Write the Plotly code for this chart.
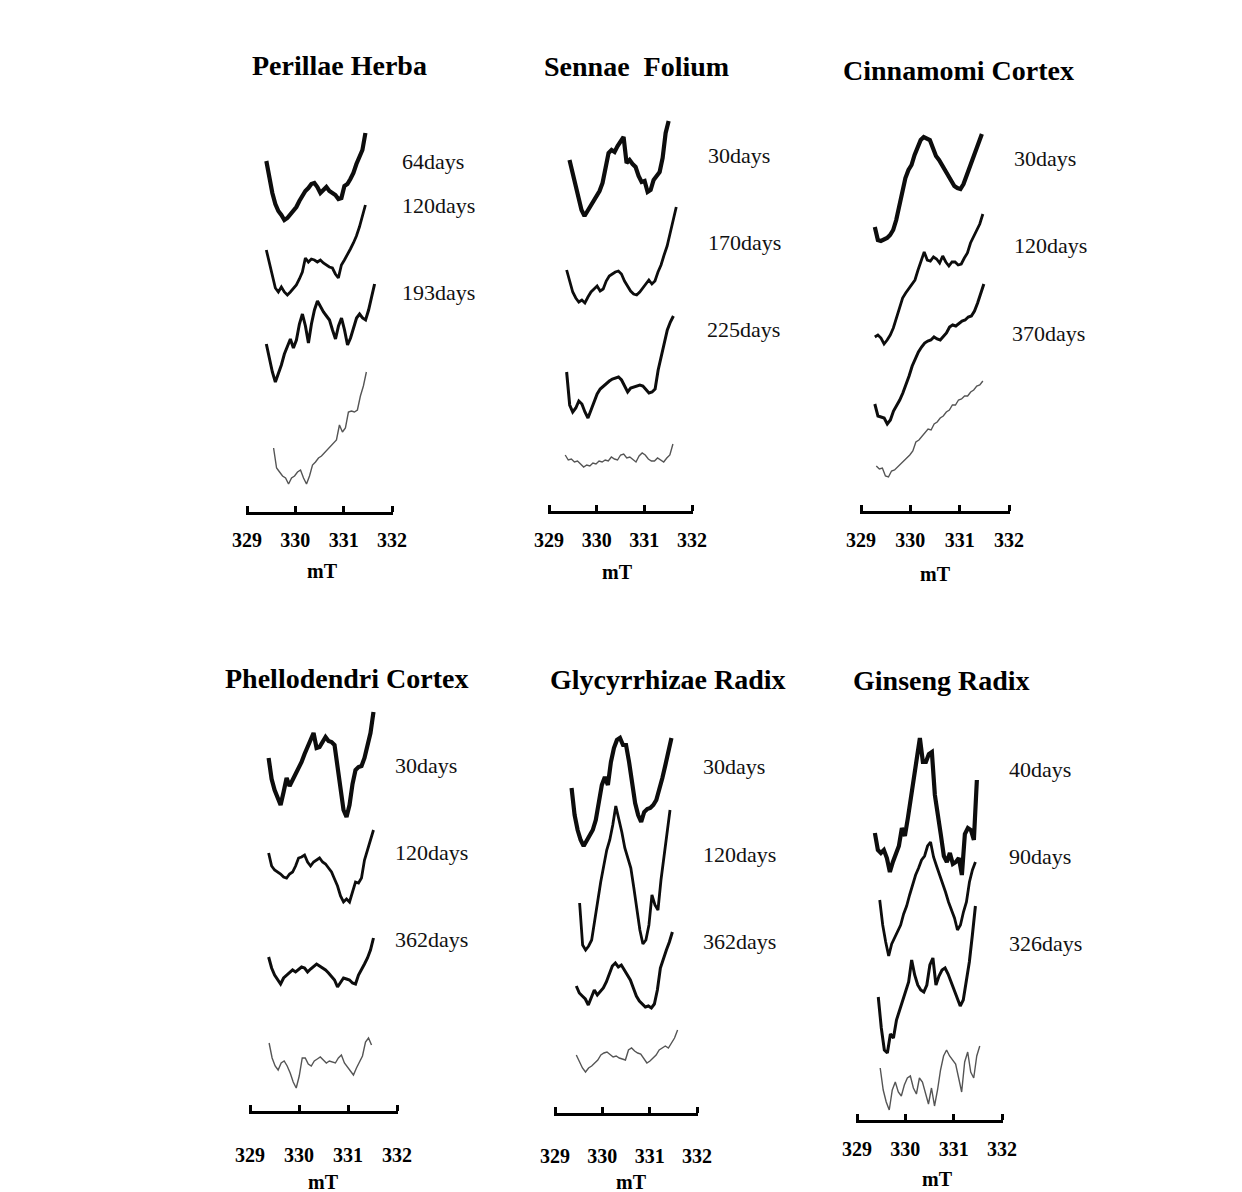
import numpy as np
import plotly.graph_objects as go

W, H = 1242, 1192
SERIF = "Liberation Serif"

# ---- ESR spectra: sweep limits (mT) and signal amplitude (a.u.) ----
perillae_64d_field = [329.40, 331.45]
perillae_64d = [59, 42, 27, 16, 9, 5, 0, 2, 6, 9, 13, 19, 25, 29, 32, 36, 37, 33, 27, 30,
                33, 29, 27, 25, 21, 22, 34, 36, 41, 47, 56, 63, 70, 87]
perillae_120d_field = [329.40, 331.45]
perillae_120d = [45, 33, 18, 7, 3, 8, 3, 0, 3, 6, 10, 16, 23, 37, 33, 36, 35, 33, 35, 32,
                 30, 28, 27, 21, 17, 30, 35, 40, 46, 52, 59, 68, 78, 90]
perillae_193d_field = [329.40, 331.64]
perillae_193d = [41, 27, 13, 3, 11, 20, 31, 39, 46, 37, 45, 61, 71, 59, 42, 61, 75, 84, 78, 73,
                 69, 65, 55, 46, 59, 67, 55, 40, 47, 56, 67, 71, 67, 65, 75, 88, 101]
perillae_ctrl_field = [329.55, 331.47]
perillae_ctrl = [37, 17, 13, 9, 7, 1, 7, 9, 13, 15, 7, 1, 9, 20, 23, 27, 29, 32, 35, 38,
                 41, 45, 60, 53, 57, 73, 74, 73, 75, 89, 99, 113]

sennae_30d_field = [329.43, 331.51]
sennae_30d = [56, 44, 34, 18, 6, 0, 5, 10, 14, 20, 25, 33, 50, 63, 66, 64, 70, 75, 79, 53,
              56, 52, 49, 40, 34, 35, 24, 26, 36, 40, 44, 58, 83, 95]
sennae_170d_field = [329.37, 331.67]
sennae_170d = [35, 23, 13, 7, 3, 5, 2, 8, 13, 16, 19, 14, 16, 24, 29, 31, 33, 34, 31, 24,
               19, 14, 11, 10, 13, 17, 21, 25, 21, 24, 33, 40, 50, 59, 72, 86, 98]
sennae_225d_field = [329.37, 331.61]
sennae_225d = [48, 15, 8, 12, 19, 16, 8, 2, 10, 18, 26, 31, 34, 37, 39, 41, 42, 43, 40, 34,
               28, 32, 33, 34, 35, 34, 30, 27, 28, 31, 50, 64, 76, 90, 98, 104]
sennae_ctrl_field = [329.34, 331.60]
sennae_ctrl = [15, 10, 11, 8, 9, 6, 3, 5, 4, 7, 6, 9, 8, 10, 9, 13, 11, 10, 15, 16,
               12, 13, 10, 8, 14, 17, 15, 11, 9, 9, 12, 10, 8, 12, 15, 26]

cinnamomi_30d_field = [329.28, 331.45]
cinnamomi_30d = [18, 5, 4, 5, 7, 10, 15, 25, 40, 57, 67, 75, 80, 90, 98, 105, 108, 106, 105, 97,
                 89, 85, 80, 75, 69, 63, 59, 57, 56, 61, 69, 78, 87, 95, 103, 111]
cinnamomi_120d_field = [329.28, 331.47]
cinnamomi_120d = [8, 10, 7, 1, 5, 10, 17, 27, 37, 47, 52, 56, 61, 65, 75, 85, 93, 85, 84, 88,
                  86, 82, 89, 83, 79, 83, 83, 80, 81, 87, 92, 102, 108, 114, 121, 131]
cinnamomi_370d_field = [329.28, 331.49]
cinnamomi_370d = [21, 9, 8, 7, 1, 5, 14, 19, 25, 32, 40, 49, 59, 67, 73, 78, 82, 84, 85, 88,
                  86, 85, 89, 92, 98, 100, 99, 102, 104, 105, 108, 109, 114, 122, 131, 141]
cinnamomi_ctrl_field = [329.31, 331.47]
cinnamomi_ctrl = [14, 11, 12, 4, 3, 9, 10, 13, 15, 18, 22, 25, 29, 38, 40, 44, 47, 51, 50, 56,
                  58, 62, 64, 68, 70, 75, 75, 80, 81, 84, 84, 88, 90, 94, 95, 99]

phellodendri_30d_field = [329.38, 331.52]
phellodendri_30d = [62, 41, 30, 21, 15, 28, 42, 34, 40, 45, 52, 58, 66, 72, 80, 87, 72, 73, 78, 83,
                    79, 78, 75, 55, 33, 10, 3, 15, 36, 50, 53, 54, 62, 73, 87, 108]
phellodendri_120d_field = [329.38, 331.52]
phellodendri_120d = [52, 39, 35, 33, 31, 28, 27, 31, 33, 39, 47, 48, 50, 43, 39, 43, 45, 47, 43, 41,
                     37, 33, 26, 19, 9, 3, 6, 3, 13, 23, 22, 27, 45, 56, 65, 75]
phellodendri_362d_field = [329.38, 331.52]
phellodendri_362d = [33, 22, 15, 10, 6, 12, 15, 18, 20, 18, 21, 23, 22, 18, 21, 24, 26, 24, 22, 20,
                     17, 14, 10, 3, 8, 12, 11, 10, 7, 6, 15, 20, 26, 32, 40, 52]
phellodendri_ctrl_field = [329.39, 331.48]
phellodendri_ctrl = [47, 32, 24, 20, 27, 29, 24, 17, 8, 2, 14, 32, 32, 26, 24, 29, 31, 33, 30, 27,
                     29, 28, 27, 32, 35, 27, 23, 18, 15, 22, 28, 34, 48, 52, 45]

glycyrrhizae_30d_field = [329.35, 331.46]
glycyrrhizae_30d = [62, 35, 20, 10, 4, 10, 16, 20, 30, 45, 65, 73, 65, 88, 102, 110, 112, 105, 105, 88,
                    68, 47, 35, 28, 38, 41, 42, 45, 50, 60, 72, 85, 98, 112]
glycyrrhizae_120d_field = [329.52, 331.43]
glycyrrhizae_120d = [52, 10, 5, 9, 15, 35, 55, 73, 89, 105, 115, 130, 149, 137, 123, 107, 98, 87, 67, 47,
                     25, 11, 15, 30, 60, 50, 45, 75, 97, 120, 145]
glycyrrhizae_362d_field = [329.45, 331.48]
glycyrrhizae_362d = [24, 17, 14, 11, 5, 12, 20, 15, 18, 22, 28, 37, 44, 47, 43, 45, 40, 35, 30, 22,
                     14, 9, 6, 3, 4, 2, 6, 20, 42, 52, 60, 68, 78]
glycyrrhizae_ctrl_field = [329.45, 331.59]
glycyrrhizae_ctrl = [20, 13, 7, 3, 7, 9, 12, 15, 20, 22, 23, 20, 18, 19, 17, 16, 15, 25, 27, 24,
                     22, 21, 17, 12, 14, 17, 20, 25, 27, 29, 27, 32, 37, 45]

ginseng_40d_field = [329.37, 331.48]
ginseng_40d = [47, 30, 27, 30, 22, 8, 18, 25, 34, 52, 44, 62, 82, 98, 125, 142, 118, 118, 126, 128,
               85, 68, 45, 24, 18, 27, 16, 18, 22, 5, 46, 52, 50, 40, 100]
ginseng_90d_field = [329.47, 331.45]
ginseng_90d = [60, 35, 18, 4, 16, 22, 28, 35, 46, 54, 65, 76, 85, 92, 100, 104, 114, 118, 103, 94,
               86, 78, 68, 58, 50, 42, 30, 35, 48, 58, 78, 90, 98]
ginseng_326d_field = [329.44, 331.45]
ginseng_326d = [58, 27, 5, 2, 21, 17, 35, 45, 53, 63, 73, 95, 80, 70, 65, 63, 70, 90, 97, 70,
                79, 85, 87, 81, 73, 65, 55, 49, 55, 73, 93, 120, 149]
ginseng_ctrl_field = [329.48, 331.54]
ginseng_ctrl = [44, 22, 10, 2, 22, 30, 20, 16, 27, 34, 36, 24, 18, 34, 30, 20, 8, 24, 6, 22,
                42, 56, 62, 56, 52, 48, 34, 20, 50, 60, 40, 34, 56, 66]

field_ticks = [329, 330, 331, 332]
FIELD_MIN, FIELD_MAX = 329, 332
FIELD_PAD = 0.03  # keeps the end ticks inside the axis range

# ---- panel layout (pixel geometry of each sub-plot) ----
panels = [
    dict(title="Perillae Herba", title_xy=(339, 66), mt_xy=(322, 571),
         axis=(247, 392, 511.5), standoff=8,
         spectra=[(perillae_64d_field, perillae_64d, 292.5),
                  (perillae_120d_field, perillae_120d, 217.5),
                  (perillae_193d_field, perillae_193d, 127.5),
                  (perillae_ctrl_field, perillae_ctrl, 27.5)],
         labels=["64days", "120days", "193days"],
         label_xy=[(400, 161), (400, 206), (400, 292)]),
    dict(title="Sennae\u00a0\u00a0Folium", title_xy=(636, 67), mt_xy=(617, 572),
         axis=(549, 692, 511), standoff=9,
         spectra=[(sennae_30d_field, sennae_30d, 296),
                  (sennae_170d_field, sennae_170d, 207),
                  (sennae_225d_field, sennae_225d, 92),
                  (sennae_ctrl_field, sennae_ctrl, 42)],
         labels=["30days", "170days", "225days"],
         label_xy=[(706, 156), (706, 243), (705, 330)]),
    dict(title="Cinnamomi Cortex", title_xy=(958, 70), mt_xy=(935, 574),
         axis=(861, 1009, 511), standoff=9,
         spectra=[(cinnamomi_30d_field, cinnamomi_30d, 267),
                  (cinnamomi_120d_field, cinnamomi_120d, 167),
                  (cinnamomi_370d_field, cinnamomi_370d, 87),
                  (cinnamomi_ctrl_field, cinnamomi_ctrl, 32)],
         labels=["30days", "120days", "370days"],
         label_xy=[(1012, 158), (1012, 245), (1010, 333)]),
    dict(title="Phellodendri Cortex", title_xy=(346, 678), mt_xy=(323, 1182),
         axis=(250, 397, 1110.5), standoff=24,
         spectra=[(phellodendri_30d_field, phellodendri_30d, 291.5),
                  (phellodendri_120d_field, phellodendri_120d, 206.5),
                  (phellodendri_362d_field, phellodendri_362d, 121.5),
                  (phellodendri_ctrl_field, phellodendri_ctrl, 21.5)],
         labels=["30days", "120days", "362days"],
         label_xy=[(393, 765), (393, 852), (393, 939)]),
    dict(title="Glycyrrhizae Radix", title_xy=(668, 679), mt_xy=(631, 1182),
         axis=(555, 697, 1113), standoff=23,
         spectra=[(glycyrrhizae_30d_field, glycyrrhizae_30d, 264),
                  (glycyrrhizae_120d_field, glycyrrhizae_120d, 159),
                  (glycyrrhizae_362d_field, glycyrrhizae_362d, 104),
                  (glycyrrhizae_ctrl_field, glycyrrhizae_ctrl, 39)],
         labels=["30days", "120days", "362days"],
         label_xy=[(701, 767), (701, 854), (701, 941)]),
    dict(title="Ginseng Radix", title_xy=(941, 680), mt_xy=(937, 1179),
         axis=(857, 1002, 1119.5), standoff=9,
         spectra=[(ginseng_40d_field, ginseng_40d, 240.5),
                  (ginseng_90d_field, ginseng_90d, 160.5),
                  (ginseng_326d_field, ginseng_326d, 65.5),
                  (ginseng_ctrl_field, ginseng_ctrl, 8.5)],
         labels=["40days", "90days", "326days"],
         label_xy=[(1007, 769), (1007, 856), (1007, 943)]),
]

# line styles for the stacked spectra (top to bottom)
line_styles = [dict(color="#0d0d0d", width=4.2),
               dict(color="#0d0d0d", width=2.8),
               dict(color="#0d0d0d", width=3.0),
               dict(color="#555555", width=1.4)]

PANEL_HEIGHT = 450  # y-axis span of each sub-plot, 1 unit per pixel


def px_x(px):
    return px / W


def px_y(py):
    return 1 - py / H


fig = go.Figure()
annotations = []
layout_axes = {}

for i, p in enumerate(panels, start=1):
    xl, xr, ay = p["axis"]
    scale = (xr - xl) / (FIELD_MAX - FIELD_MIN)
    xname, yname = f"x{i}", f"y{i}"
    for (field, signal, offset), style in zip(p["spectra"], line_styles):
        sig = np.asarray(signal, dtype=float)
        x = np.linspace(field[0], field[1], len(sig))
        fig.add_trace(go.Scatter(x=x, y=sig + offset - 1, mode="lines",
                                 line=dict(color=style["color"], width=style["width"]),
                                 xaxis=xname, yaxis=yname,
                                 hoverinfo="skip", showlegend=False))

    layout_axes[f"xaxis{i}"] = dict(
        domain=[px_x(xl - FIELD_PAD * scale), px_x(xr + FIELD_PAD * scale)],
        range=[FIELD_MIN - FIELD_PAD, FIELD_MAX + FIELD_PAD], anchor=yname,
        showline=True, linecolor="black", linewidth=3,
        ticks="inside", ticklen=6, tickwidth=2.5, tickcolor="black",
        tickvals=field_ticks, ticklabelstandoff=p["standoff"],
        tickfont=dict(family=SERIF, size=20, color="black", weight="bold"),
        showgrid=False, zeroline=False, fixedrange=True, automargin=False)
    layout_axes[f"yaxis{i}"] = dict(
        domain=[px_y(ay), px_y(ay - PANEL_HEIGHT)], range=[0, PANEL_HEIGHT],
        anchor=xname, visible=False, fixedrange=True, automargin=False)

    tx, ty = p["title_xy"]
    annotations.append(dict(text=p["title"], x=px_x(tx), y=px_y(ty), xref="paper", yref="paper",
                            xanchor="center", yanchor="middle", showarrow=False,
                            font=dict(family=SERIF, size=28, color="black", weight="bold")))
    mx, my = p["mt_xy"]
    annotations.append(dict(text="mT", x=px_x(mx), y=px_y(my), xref="paper", yref="paper",
                            xanchor="center", yanchor="middle", showarrow=False,
                            font=dict(family=SERIF, size=20, color="black", weight="bold")))
    for lab, (lx, ly) in zip(p["labels"], p["label_xy"]):
        annotations.append(dict(text=lab, x=px_x(lx), y=px_y(ly), xref="paper", yref="paper",
                                xanchor="left", yanchor="middle", showarrow=False,
                                font=dict(family=SERIF, size=22, color="#111111")))

fig.update_layout(
    width=W, height=H,
    margin=dict(l=0, r=0, t=0, b=0, autoexpand=False),
    paper_bgcolor="white", plot_bgcolor="rgba(0,0,0,0)",
    showlegend=False,
    annotations=annotations,
    **layout_axes,
)

fig.write_html("out.html", config={"displayModeBar": False})
